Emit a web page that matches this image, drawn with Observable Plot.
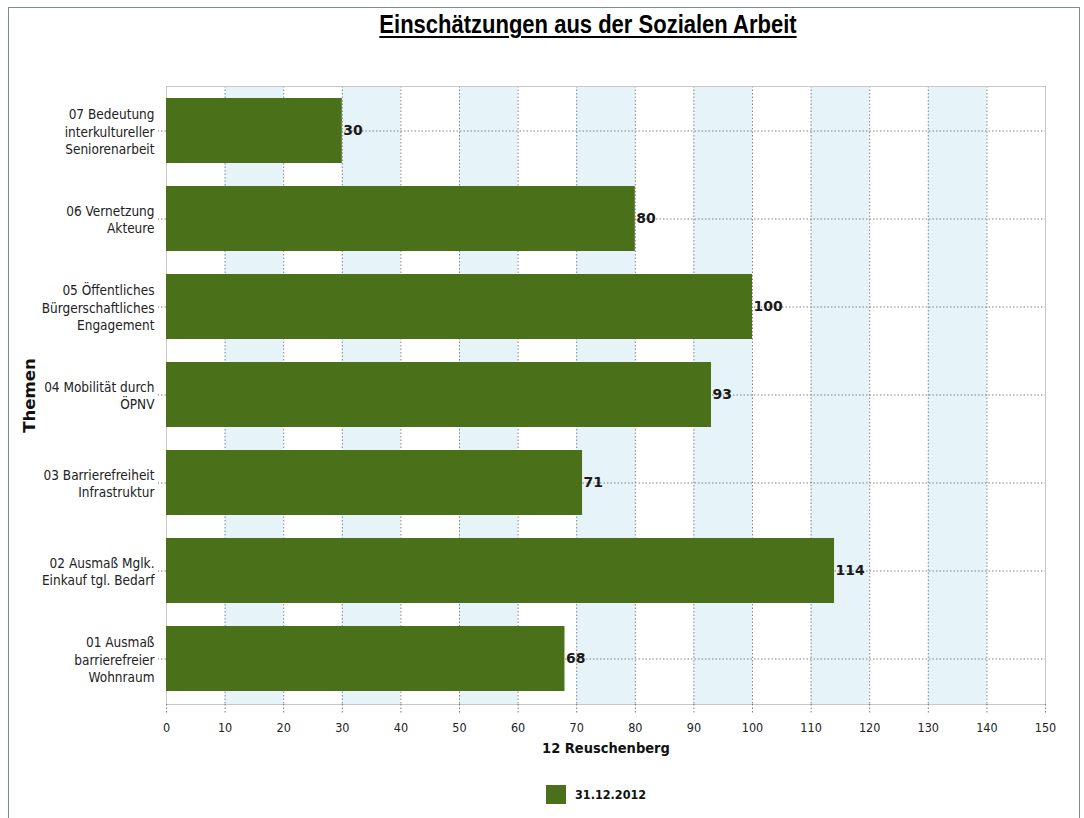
<!DOCTYPE html>
<html>
<head>
<meta charset="utf-8">
<script src="https://cdn.jsdelivr.net/npm/d3@7"></script>
<script src="https://cdn.jsdelivr.net/npm/@observablehq/plot@0.6"></script>
<style>
  html, body { margin: 0; padding: 0; background: #fff; }
  body { width: 1084px; height: 818px; position: relative; overflow: hidden; }
  #frame { position: absolute; left: 8px; top: 7px; width: 1072px; height: 820px; border: 1px solid #7f8c96; box-sizing: border-box; }
  #title { position: absolute; left: 88px; width: 1000px; top: 10px; text-align: center; font-family: "Liberation Sans", Arial, sans-serif; font-weight: bold; font-size: 25px; line-height: 28px; text-decoration: underline; text-decoration-thickness: 2px; text-underline-offset: 3px; color: #000; transform: scaleX(0.88); transform-origin: 500px 0; }
  #chart { position: absolute; left: 0; top: 0; }
  #legend { position: absolute; left: 546px; top: 785px; display: flex; align-items: center; font-family: "DejaVu Sans Condensed", "DejaVu Sans", sans-serif; font-weight: bold; font-size: 12.5px; color: #111; }
  #legend .sw { width: 20px; height: 19px; background: #4a7019; margin-right: 9px; }
</style>
</head>
<body>
<div id="frame"></div>
<div id="title">Einschätzungen aus der Sozialen Arbeit</div>
<div id="chart"></div>
<div id="legend"><div class="sw"></div><span>31.12.2012</span></div>
<script>
const categories = [
  "07 Bedeutung\ninterkultureller\nSeniorenarbeit",
  "06 Vernetzung\nAkteure",
  "05 Öffentliches\nBürgerschaftliches\nEngagement",
  "04 Mobilität durch\nÖPNV",
  "03 Barrierefreiheit\nInfrastruktur",
  "02 Ausmaß Mglk.\nEinkauf tgl. Bedarf",
  "01 Ausmaß\nbarrierefreier\nWohnraum"
];
const values = [30, 80, 100, 93, 71, 114, 68];
const xTicks = [0, 10, 20, 30, 40, 50, 60, 70, 80, 90, 100, 110, 120, 130, 140, 150];
const bandStarts = [10, 30, 50, 70, 90, 110, 130];
const seriesName = "31.12.2012";
const xLabel = "12 Reuschenberg";
const yLabel = "Themen";

const data = categories.map((c, i) => ({cat: c, value: values[i]}));
const bands = bandStarts.map(s => ({x1: s, x2: s + 10}));

const font = "'DejaVu Sans Condensed', 'DejaVu Sans', sans-serif";

const chart = Plot.plot({
  width: 1084,
  height: 770,
  marginLeft: 166,
  marginRight: 39,
  marginTop: 86,
  marginBottom: 66,
  style: {fontFamily: font, fontSize: "12px", color: "#222", background: "transparent"},
  x: {domain: [0, 150], ticks: xTicks},
  y: {domain: categories, paddingInner: 0.26, paddingOuter: 0.13},
  marks: [
    Plot.rect(bands, {x1: "x1", x2: "x2", fill: "#e6f3f9"}),
    Plot.gridX(xTicks, {stroke: "#777", strokeOpacity: 0.9, strokeDasharray: "1.5,2"}),
    Plot.gridY(categories, {stroke: "#777", strokeOpacity: 0.9, strokeDasharray: "1.5,2", x1: 0, x2: 150}),
    Plot.frame({stroke: "#c8c8c8"}),
    Plot.barX(data, {x: "value", y: "cat", fill: "#4a7019"}),
    Plot.text(data, {x: "value", y: "cat", text: d => String(d.value), textAnchor: "start", dx: 1, fontWeight: "bold", fontSize: 14, fill: "#1a1a1a", fontFamily: "'DejaVu Sans', sans-serif"}),
    Plot.axisX({ticks: xTicks, tickSize: 10, tickPadding: 9, stroke: "#777", strokeDasharray: "1.5,2", fontSize: 12.5, label: xLabel, labelAnchor: "center", labelOffset: 48, labelArrow: "none"}),
    Plot.axisY({tickSize: 8, tickPadding: 4, stroke: "#777", strokeDasharray: "1.5,2", fontSize: 13.5, lineHeight: 1.3, label: yLabel, labelAnchor: "center", labelOffset: 143, labelArrow: "none"})
  ]
});
d3.select(chart).selectAll("[aria-label='x-axis label'] text")
  .attr("font-weight", "bold").attr("font-size", 14.5).attr("fill", "#111");
d3.select(chart).selectAll("[aria-label='y-axis label'] text")
  .attr("font-weight", "bold").attr("font-size", 16.5).attr("font-family", "'DejaVu Sans', sans-serif").attr("fill", "#111");
document.getElementById("chart").appendChild(chart);
</script>
</body>
</html>
